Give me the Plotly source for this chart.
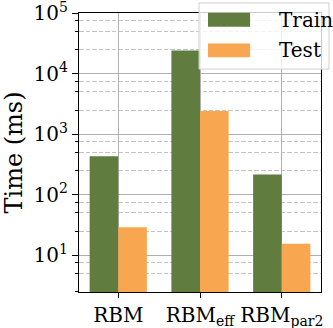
import plotly.graph_objects as go

# data
models = ["RBM", "RBM_eff", "RBM_par2"]
model_labels = ["RBM", "RBM<sub>eff</sub>", "RBM<sub>par2</sub>"]
train_ms = [430, 24000, 215]
test_ms = [29, 2400, 15.5]
series_names = ["Train", "Test"]
series_colors = ["#607d3f", "#f8a64f"]

major_vals = [10, 100, 1000, 10000, 100000]
major_text = ["10<sup>1</sup>", "10<sup>2</sup>", "10<sup>3</sup>", "10<sup>4</sup>", "10<sup>5</sup>"]
minor_vals = [m * 10 ** k for k in range(0, 5) for m in (2.5, 5, 7.5)]

FONT = "DejaVu Serif"

fig = go.Figure()
for name, vals, col in zip(series_names, [train_ms, test_ms], series_colors):
    fig.add_trace(go.Bar(
        x=models, y=vals, name=name,
        marker=dict(color=col, line=dict(width=0)),
    ))

fig.update_layout(
    width=333, height=328,
    margin=dict(l=79, r=12, t=13, b=36),
    barmode="group", bargap=0.3, bargroupgap=0,
    plot_bgcolor="white", paper_bgcolor="white",
    font=dict(family=FONT, size=20, color="black"),
    showlegend=False,
)

fig.update_xaxes(
    type="category", range=[-0.48, 2.48], automargin=False,
    tickvals=models, ticktext=model_labels,
    showline=True, linecolor="black", linewidth=1.3, mirror=True,
    ticks="outside", ticklen=5, tickcolor="black",
    showgrid=True, gridcolor="#b0b0b0", gridwidth=1,
)

fig.update_yaxes(
    type="log", range=[0.393, 5.0005], automargin=False,
    tickvals=major_vals, ticktext=major_text, ticklabeloverflow="allow",
    showline=True, linecolor="black", linewidth=1.3, mirror=True,
    ticks="outside", ticklen=6, tickcolor="black",
    showgrid=True, gridcolor="#b0b0b0", gridwidth=1,
    title=dict(text="Time (ms)", standoff=8),
    minor=dict(tickmode="array", tickvals=minor_vals, ticks="outside", ticklen=3,
               tickcolor="black", showgrid=True, gridcolor="#c4c4c4",
               griddash="4.5px,2px", gridwidth=1),
)

# legend box drawn by hand so the colour patches are as large as in the reference
fig.add_shape(type="rect", xref="paper", yref="paper", x0=0.496, x1=1.033, y0=0.799, y1=1.036,
              fillcolor="rgba(255,255,255,0.8)", line=dict(color="#d0d0d0", width=1), layer="above")
entry_y = [0.976, 0.866]
for name, col, yc in zip(series_names, series_colors, entry_y):
    fig.add_shape(type="rect", xref="paper", yref="paper", x0=0.533, x1=0.707,
                  y0=yc - 0.025, y1=yc + 0.025, fillcolor=col, line=dict(width=0), layer="above")
    fig.add_annotation(text=name, xref="paper", yref="paper", x=0.82, y=yc,
                       xanchor="left", yanchor="middle", showarrow=False,
                       font=dict(family=FONT, size=20, color="black"))

# drop the page's default body margin so the 333x328 figure fills the window
fig.write_html("out.html", config={"displayModeBar": False},
               post_script="document.body.style.margin='0';")
